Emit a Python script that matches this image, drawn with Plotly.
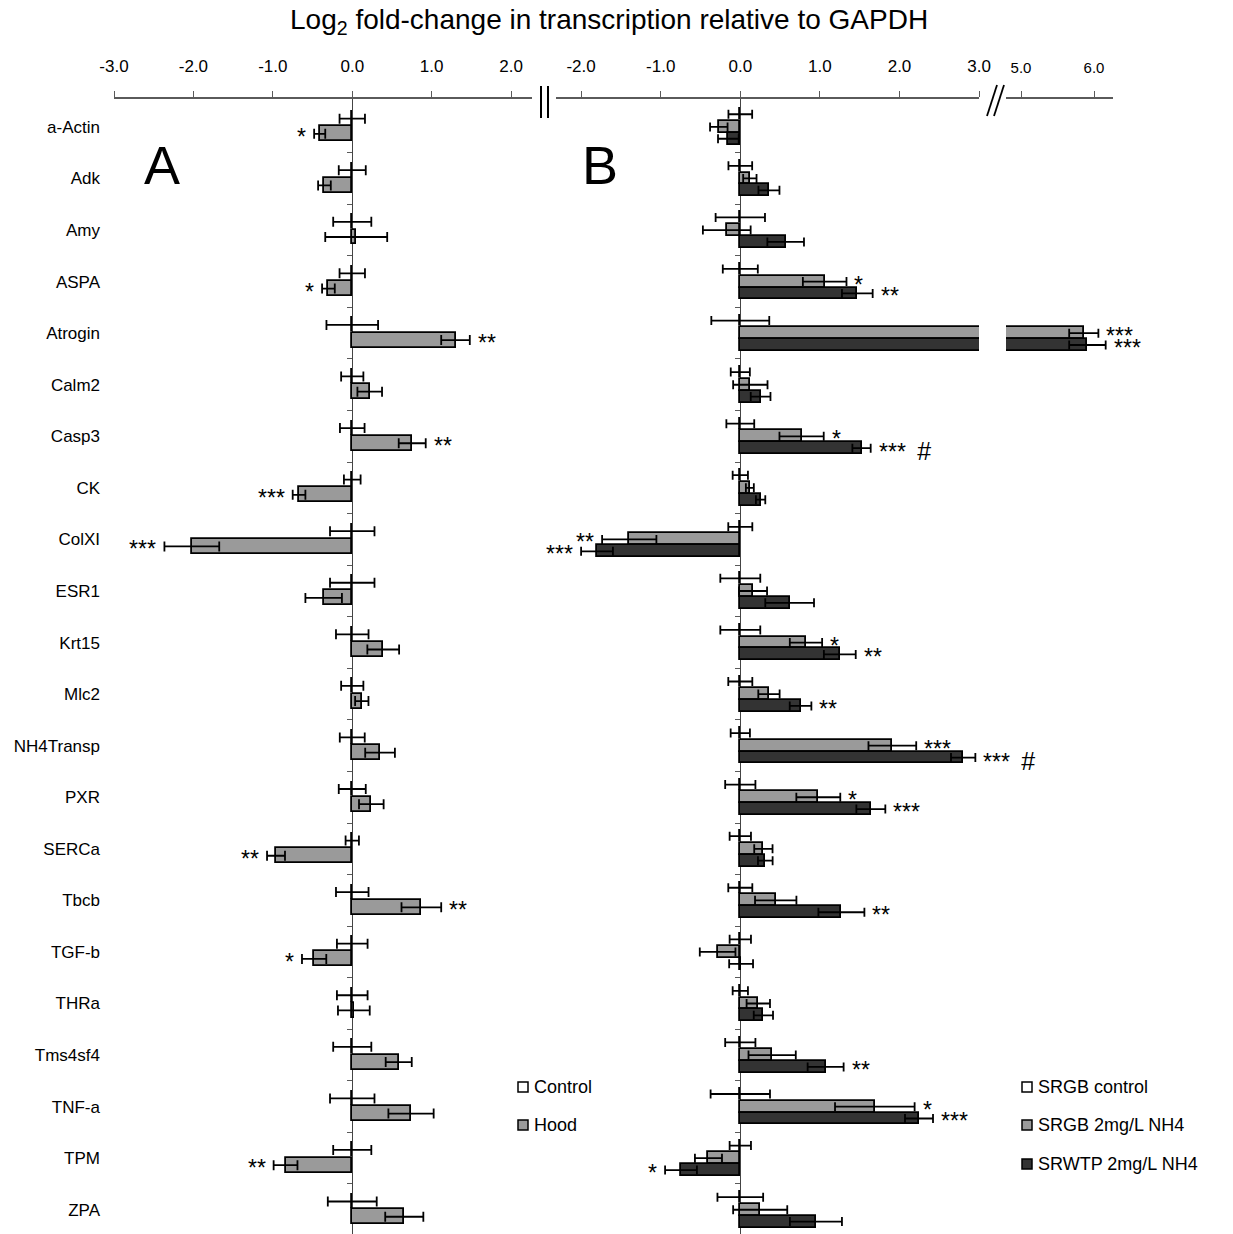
import plotly.graph_objects as go

W, H = 1233, 1234
FONT = "Liberation Sans, Arial, sans-serif"
STAR_FONT = "Liberation Sans, Arial, sans-serif"

genes = ["a-Actin", "Adk", "Amy", "ASPA", "Atrogin", "Calm2", "Casp3", "CK",
         "ColXI", "ESR1", "Krt15", "Mlc2", "NH4Transp", "PXR", "SERCa", "Tbcb",
         "TGF-b", "THRa", "Tms4sf4", "TNF-a", "TPM", "ZPA"]

# ---- Panel A: hood vs control (log2 fold-change, +/- error) ----
ctrl_a = [0.0, 0.0, 0.0, 0.0, 0.0, 0.0, 0.0, 0.0, 0.0, 0.0, 0.0,
          0.0, 0.0, 0.0, 0.0, 0.0, 0.0, 0.0, 0.0, 0.0, 0.0, 0.0]
ctrl_a_err = [0.16, 0.17, 0.24, 0.16, 0.325, 0.14, 0.155, 0.105, 0.28, 0.28, 0.205,
              0.14, 0.157, 0.17, 0.084, 0.205, 0.193, 0.193, 0.24, 0.28, 0.24, 0.308]
hood_a = [-0.41, -0.35, 0.05, -0.30, 1.30, 0.22, 0.755, -0.67, -2.02, -0.36, 0.39,
          0.12, 0.35, 0.24, -0.96, 0.87, -0.48, 0.02, 0.585, 0.74, -0.84, 0.655]
hood_a_err = [0.07, 0.08, 0.39, 0.08, 0.18, 0.155, 0.17, 0.08, 0.345, 0.23, 0.20,
              0.084, 0.187, 0.155, 0.113, 0.25, 0.153, 0.20, 0.164, 0.285, 0.15, 0.24]
hood_a_sig = ["*", "", "", "*", "**", "", "**", "***", "***", "", "",
              "", "", "", "**", "**", "*", "", "", "", "**", ""]

# ---- Panel B: SRGB control, SRGB 2mg/L NH4, SRWTP 2mg/L NH4 ----
ctrl_b = [0.0, 0.0, 0.0, 0.0, 0.0, 0.0, 0.0, 0.0, 0.0, 0.0, 0.0,
          0.0, 0.0, 0.0, 0.0, 0.0, 0.0, 0.0, 0.0, 0.0, 0.0, 0.0]
ctrl_b_err = [0.149, 0.149, 0.31, 0.22, 0.364, 0.12, 0.175, 0.096, 0.151, 0.251, 0.251,
              0.151, 0.121, 0.19, 0.134, 0.151, 0.134, 0.096, 0.19, 0.373, 0.134, 0.287]
srgb = [-0.27, 0.12, -0.17, 1.06, 5.86, 0.126, 0.77, 0.12, -1.395, 0.16, 0.825,
        0.36, 1.91, 0.98, 0.29, 0.445, -0.285, 0.226, 0.40, 1.69, -0.40, 0.25]
srgb_err = [0.11, 0.084, 0.30, 0.274, 0.20, 0.216, 0.278, 0.05, 0.341, 0.176, 0.203,
            0.134, 0.30, 0.276, 0.115, 0.26, 0.224, 0.147, 0.297, 0.50, 0.17, 0.34]
srgb_sig = ["", "", "", "*", "***", "", "*", "", "**", "", "*",
            "", "***", "*", "", "", "", "", "", "*", "", ""]
srwtp = [-0.15, 0.36, 0.57, 1.47, 5.91, 0.255, 1.523, 0.255, -1.80, 0.62, 1.25,
         0.757, 2.80, 1.64, 0.314, 1.27, 0.01, 0.29, 1.072, 2.245, -0.745, 0.95]
srwtp_err = [0.13, 0.132, 0.23, 0.193, 0.25, 0.124, 0.115, 0.059, 0.20, 0.306, 0.20,
             0.136, 0.153, 0.182, 0.092, 0.289, 0.15, 0.121, 0.226, 0.176, 0.20, 0.327]
srwtp_sig = ["", "", "", "**", "***", "", "*** #", "", "***", "", "**",
             "**", "*** #", "***", "", "**", "", "", "**", "***", "*", ""]

ticks_a = [-3, -2, -1, 0, 1, 2]
ticks_a_text = ["-3.0", "-2.0", "-1.0", "0.0", "1.0", "2.0"]
ticks_b = [-2, -1, 0, 1, 2, 3]
ticks_b_text = ["-2.0", "-1.0", "0.0", "1.0", "2.0", "3.0"]
ticks_b_hi = [5, 6]
ticks_b_hi_text = ["5.0", "6.0"]

C_WHITE, C_LIGHT, C_DARK = "#ffffff", "#9a9a9a", "#333333"
AX = "#5a5a5a"


def px(x):
    return x / W


def py(y):
    return 1 - y / H


# pixel geometry of the plotting area
Y_TOP, Y_BOT = 99, 1234
CAT0, CAT_STEP = 126.9, 51.565
Y_RANGE = [(Y_BOT - CAT0) / CAT_STEP, (Y_TOP - CAT0) / CAT_STEP]

idx = list(range(len(genes)))
boundaries = [i + 0.5 for i in range(len(genes) - 1)]

# row offsets within one gene (in category units) and bar thickness
A_OFF = {"ctrl": -0.16, "hood": 0.135}
A_W = 0.29
B_OFF = {"ctrl": -0.245, "srgb": 0.0, "srwtp": 0.23}
B_W = 0.23

fig = go.Figure()


def bar(vals, errs, off, width, color, xaxis, name, cap):
    return go.Bar(
        x=vals, y=[i + off for i in idx], orientation="h", width=width,
        marker=dict(color=color, line=dict(color="black", width=1.8)),
        error_x=dict(type="data", array=errs, visible=True, color="black",
                     thickness=1.8, width=cap),
        xaxis=xaxis, yaxis="y", name=name, showlegend=False, hoverinfo="skip")


fig.add_trace(bar(ctrl_a, ctrl_a_err, A_OFF["ctrl"], A_W, C_WHITE, "x", "Control", 5))
fig.add_trace(bar(hood_a, hood_a_err, A_OFF["hood"], A_W, C_LIGHT, "x", "Hood", 5))
for ax in ("x2", "x3"):
    if ax == "x2":
        fig.add_trace(bar(ctrl_b, ctrl_b_err, B_OFF["ctrl"], B_W, C_WHITE, ax, "SRGB control", 4.5))
    fig.add_trace(bar(srgb, srgb_err, B_OFF["srgb"], B_W, C_LIGHT, ax, "SRGB 2mg/L NH4", 4.5))
    fig.add_trace(bar(srwtp, srwtp_err, B_OFF["srwtp"], B_W, C_DARK, ax, "SRWTP 2mg/L NH4", 4.5))

# empty traces that carry the tick-only y axes drawn along each zero line
fig.add_trace(go.Scatter(x=[], y=[], xaxis="x", yaxis="y2", showlegend=False, hoverinfo="skip"))
fig.add_trace(go.Scatter(x=[], y=[], xaxis="x2", yaxis="y3", showlegend=False, hoverinfo="skip"))

annotations = []


def star_text(s):
    stars, _, hashes = s.partition(" ")
    txt = stars
    if hashes:
        txt += "\u2002<span style='font-size:25px'>#</span>"
    return txt


def add_stars(vals, errs, sig, off, xref_fn):
    for i, (v, e, s) in enumerate(zip(vals, errs, sig)):
        if not s:
            continue
        end = v + e if v >= 0 else v - e
        annotations.append(dict(
            x=end, y=i + off, xref=xref_fn(end), yref="y",
            text=star_text(s), showarrow=False,
            xanchor="left" if v >= 0 else "right",
            xshift=6 if v >= 0 else -6, yshift=-3,
            font=dict(family=STAR_FONT, size=23, color="black")))


add_stars(hood_a, hood_a_err, hood_a_sig, A_OFF["hood"], lambda x: "x")
b_ref = lambda x: "x3" if x > 3.0 else "x2"
add_stars(srgb, srgb_err, srgb_sig, B_OFF["srgb"], b_ref)
add_stars(srwtp, srwtp_err, srwtp_sig, B_OFF["srwtp"], b_ref)

# title and panel letters
annotations.append(dict(
    x=px(609), y=py(22), xref="paper", yref="paper", showarrow=False,
    text="Log<sub>2</sub> fold-change in transcription relative to GAPDH",
    font=dict(family=FONT, size=28, color="black"), xanchor="center", yanchor="middle"))
for letter, x in (("A", 162), ("B", 600)):
    annotations.append(dict(
        x=px(x), y=py(165), xref="paper", yref="paper", showarrow=False, text=letter,
        font=dict(family=FONT, size=54, color="black"),
        xanchor="center", yanchor="middle"))

# legends
shapes = []
legend_a = [("Control", C_WHITE, 1087), ("Hood", C_LIGHT, 1125)]
legend_b = [("SRGB control", C_WHITE, 1087), ("SRGB 2mg/L NH4", C_LIGHT, 1125),
            ("SRWTP 2mg/L NH4", C_DARK, 1164)]
for items, x0 in ((legend_a, 518), (legend_b, 1022)):
    for label, color, yc in items:
        shapes.append(dict(type="rect", xref="paper", yref="paper",
                           x0=px(x0), x1=px(x0 + 10), y0=py(yc + 5), y1=py(yc - 5),
                           fillcolor=color, line=dict(color="black", width=1.5)))
        annotations.append(dict(
            x=px(x0 + 14), y=py(yc), xref="paper", yref="paper", showarrow=False,
            text=label, xanchor="left", yanchor="middle",
            font=dict(family=FONT, size=18, color="black")))

# axis break marks
for x in (541, 548):
    shapes.append(dict(type="line", xref="paper", yref="paper",
                       x0=px(x), x1=px(x), y0=py(86), y1=py(118),
                       line=dict(color="black", width=2)))
for x in (987, 994):
    shapes.append(dict(type="line", xref="paper", yref="paper",
                       x0=px(x), x1=px(x + 10), y0=py(116), y1=py(85),
                       line=dict(color="black", width=1.8)))

xcommon = dict(side="top", anchor="y", showgrid=False, showline=True, linecolor=AX,
               linewidth=1.5, ticks="outside", ticklen=6, tickcolor=AX, tickwidth=1.2,
               zerolinecolor="#444444", zerolinewidth=1.2, ticklabelstandoff=12,
               automargin=False)
ycommon = dict(range=Y_RANGE, domain=[0, py(Y_TOP)], showgrid=False, zeroline=False,
               showline=False, automargin=False)

fig.update_layout(
    width=W, height=H, margin=dict(l=0, r=0, t=0, b=0, pad=0, autoexpand=False),
    paper_bgcolor="white", plot_bgcolor="white", barmode="overlay", bargap=0,
    showlegend=False,
    xaxis=dict(domain=[px(114), px(532)], range=[-3.0, (532 - 352.3) / 79.4],
               tickvals=ticks_a, ticktext=ticks_a_text, zeroline=True,
               tickfont=dict(family=FONT, size=17, color="black"), **xcommon),
    xaxis2=dict(domain=[px(556), px(979.1)], range=[(556 - 740.3) / 79.6, 3.0],
                tickvals=ticks_b, ticktext=ticks_b_text, zeroline=True,
                tickfont=dict(family=FONT, size=17, color="black"), **xcommon),
    xaxis3=dict(domain=[px(1006), px(1113)], range=[5.0 - 15 / 73, 6.0 + 19 / 73],
                tickvals=ticks_b_hi, ticktext=ticks_b_hi_text, zeroline=False,
                tickfont=dict(family=FONT, size=15, color="black"), **xcommon),
    yaxis=dict(anchor="x", tickvals=idx, ticktext=genes, ticks="", ticklabelstandoff=13,
               tickfont=dict(family=FONT, size=17, color="black"), **ycommon),
    yaxis2=dict(overlaying="y", anchor="free", position=px(352.3), tickvals=boundaries,
                ticks="outside", ticklen=5, tickcolor=AX, showticklabels=False, **ycommon),
    yaxis3=dict(overlaying="y", anchor="free", position=px(740.3), tickvals=boundaries,
                ticks="outside", ticklen=5, tickcolor=AX, showticklabels=False, **ycommon),
    annotations=annotations, shapes=shapes,
)

fig.write_html("out.html")
